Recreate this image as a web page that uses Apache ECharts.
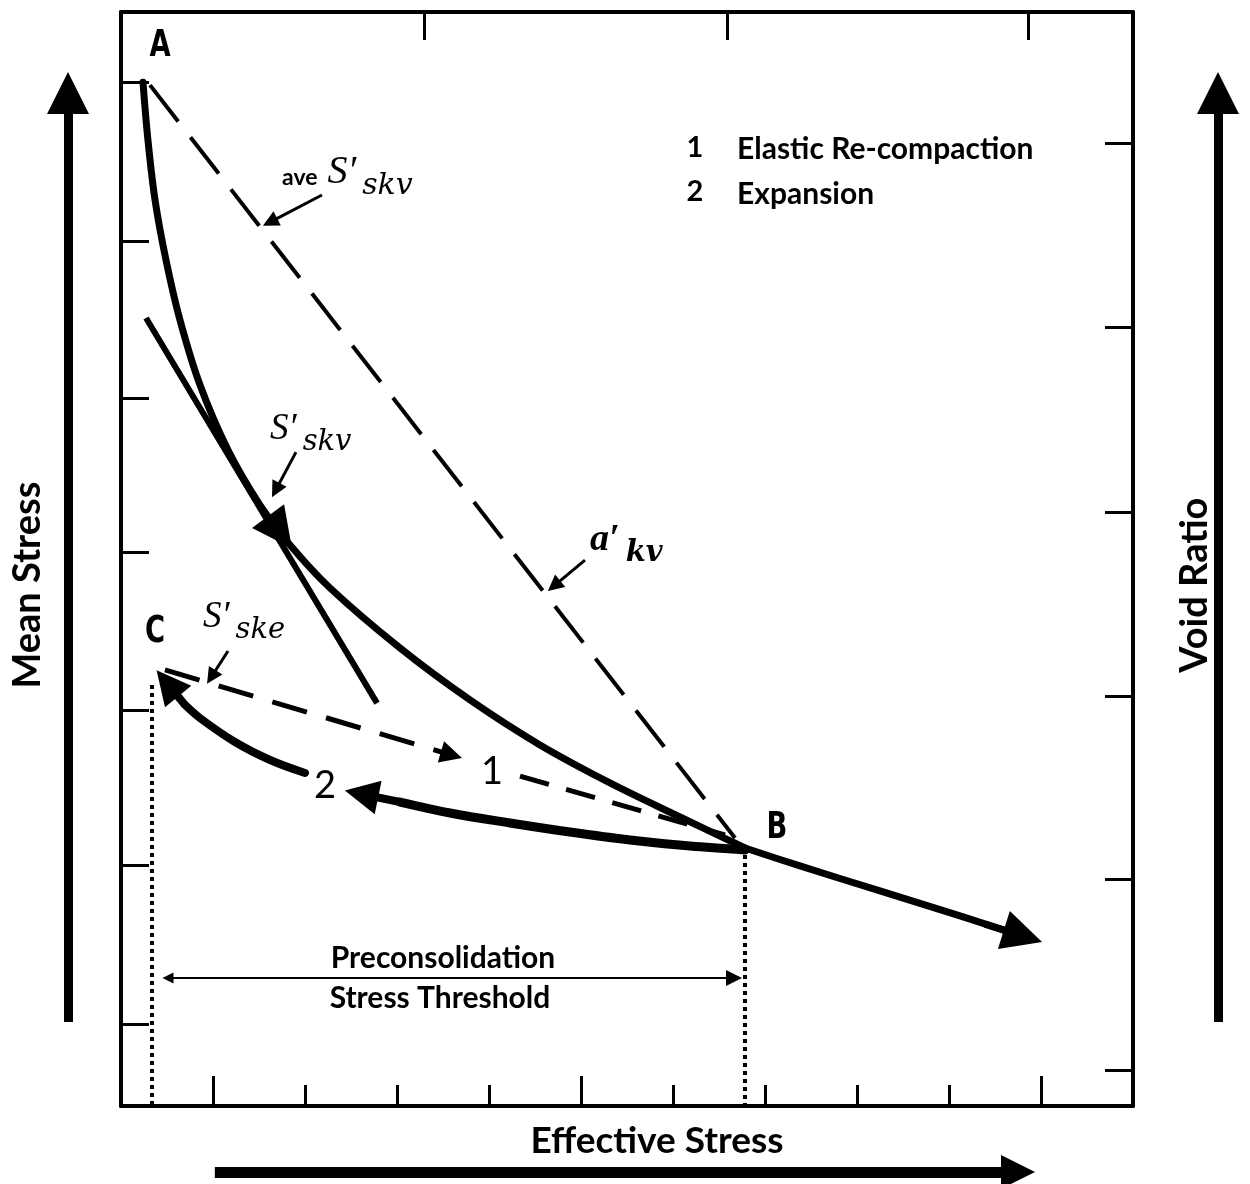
<!DOCTYPE html>
<html><head><meta charset="utf-8">
<script src="https://cdn.jsdelivr.net/npm/echarts@6/dist/echarts.min.js"></script>
<style>html,body{margin:0;padding:0;background:#fff}#c{width:1250px;height:1184px}</style>
</head><body><div id="c"></div>
<script>
// ---- axes (arbitrary units: x = effective stress, y = mean stress / void ratio) ----
const xRange = [0, 11];
const yRange = [0, 7];
const bottomTicks = [2, 3, 4, 6, 7, 8, 9];
const bottomLongTicks = [1, 5, 10];
const topTicks = [3.30, 6.59, 9.86];
const leftTicks = [0.52, 1.54, 2.53, 3.54, 4.53, 5.53, 6.55];
const rightTicks = [0.23, 1.45, 2.62, 3.80, 4.98, 6.16];

// ---- curves ----
const virginCurveAB = [[0.239,6.551],[0.293,6.180],[0.370,5.797],[0.489,5.413],[0.641,5.029],[0.859,4.613],[1.163,4.197],[1.511,3.845],[1.837,3.589],[2.272,3.314],[3.033,2.930],[3.793,2.598],[4.554,2.310],[5.315,2.067],[6.076,1.849],[6.783,1.651]];
const virginCurveTail = [[6.783,1.651],[7.380,1.536],[8.250,1.376],[9.120,1.216],[9.700,1.105]];
const tailArrow = [[9.391,1.164],[9.804,1.088]];
const curveArrow = [[1.533,3.826],[1.728,3.672]];
const tangentSkv = [[0.272,5.042],[2.783,2.578]];
const aveSlopeAB = [[0.315,6.532],[6.674,1.715]];
const recompactionCB1 = [[0.478,2.790],[3.592,2.246]];
const recompactionCB2 = [[4.337,2.111],[6.565,1.734]];
const expansionLower = [[6.783,1.638],[6.185,1.663],[5.533,1.702],[4.880,1.753],[4.228,1.811],[3.576,1.875],[3.033,1.945]];
const expansionLowerArrow = [[3.033,1.945],[2.614,1.996]];
const expansionUpper = [[2.000,2.131],[1.620,2.214],[1.239,2.329],[0.859,2.482],[0.696,2.566]];
const expansionUpperArrow = [[0.696,2.566],[0.504,2.704]];
const dottedC = [[0.337,2.694],[0.337,0]];
const dottedB = [[6.783,1.606],[6.783,0]];
const thresholdArrow = [[0.511,0.819],[6.663,0.819]];
const pointerAve = [[2.185,5.829],[1.620,5.656]];
const pointerSkv = [[1.902,4.184],[1.682,3.941]];
const pointerAkv = [[5.043,3.493],[4.707,3.328]];
const pointerSke = [[1.163,2.911],[0.982,2.745]];
const meanStressArrow = [[-0.576,0.537],[-0.576,6.481]];
const voidRatioArrow = [[11.924,0.537],[11.924,6.481]];
const effStressArrow = [[1.02,-0.422],[9.75,-0.422]];

// ---- text annotations ----
const axisTitles = [
  {t:'Effective Stress', p:[5.826,-0.224], rot:0, size:37},
  {t:'Mean Stress', p:[-1.011,3.333], rot:90, size:38},
  {t:'Void Ratio', p:[11.674,3.333], rot:90, size:38}
];
const pointLabels = [{t:'A', p:[0.424,6.782]}, {t:'B', p:[7.130,1.779]}, {t:'C', p:[0.370,3.033]}];
const pathNumbers = [{t:'1', p:[4.033,2.137]}, {t:'2', p:[2.217,2.047]}];
const legendNums = [{t:'1', p:[6.239,6.129]}, {t:'2', p:[6.239,5.848]}];
const legendTexts = [{t:'Elastic Re-compaction', p:[6.696,6.120]}, {t:'Expansion', p:[6.696,5.835]}];
const thresholdTexts = [{t:'Preconsolidation', p:[3.50,0.947]}, {t:'Stress Threshold', p:[3.467,0.691]}];
const mathLabels = [
  {pre:'ave', main:'S\u2032', sub:'skv', p:[1.750,5.970], ms:40, ss:30, bold:false},
  {pre:'', main:'S\u2032', sub:'skv', p:[1.620,4.328], ms:37, ss:29, bold:false},
  {pre:'', main:'a\u2032', sub:'kv', p:[5.098,3.621], ms:38, ss:29, bold:true},
  {pre:'', main:'S\u2032', sub:'ske', p:[0.891,3.125], ms:37, ss:29, bold:false}
];

const K = '#000';
function seg(data, width, opts) {
  return Object.assign({type:'lines', coordinateSystem:'cartesian2d', clip:false, silent:true, z:5,
    symbol:'none', data:[{coords:data}], lineStyle:{color:K, width:width, opacity:1, cap:'butt'}}, opts || {});
}
function dashed(data, width, dash) {
  return seg(data, width, {lineStyle:{color:K, width:width, opacity:1, type:dash, cap:'butt'}});
}
function arrowSeg(data, width, w, h, opts) {
  return seg(data, width, Object.assign({symbol:['none','triangle'], symbolSize:[w,h]}, opts || {}));
}
function curve(data, width) {
  return {type:'line', data:data, smooth:0.35, showSymbol:false, symbol:'none', clip:false, silent:true, z:4,
    lineStyle:{color:K, width:width, cap:'round', join:'round', opacity:1}};
}
const baseX = {type:'value', min:xRange[0], max:xRange[1], axisLabel:{show:false}, splitLine:{show:false},
  axisLine:{show:true, onZero:false, lineStyle:{color:K, width:4}}};
const baseY = {type:'value', min:yRange[0], max:yRange[1], axisLabel:{show:false}, splitLine:{show:false},
  axisLine:{show:true, onZero:false, lineStyle:{color:K, width:4}}};
const tick = (vals, len) => ({show:true, inside:true, length:len, customValues:vals, lineStyle:{color:K, width:3}});

const option = {
  animation:false,
  backgroundColor:'#fff',
  grid:{left:121, right:117, top:12, bottom:78, containLabel:false},
  xAxis:[
    Object.assign({}, baseX, {position:'bottom', axisTick:tick(bottomTicks,21)}),
    Object.assign({}, baseX, {position:'top', axisTick:tick(topTicks,28)}),
    Object.assign({}, baseX, {position:'bottom', axisLine:{show:false}, axisTick:tick(bottomLongTicks,30)})
  ],
  yAxis:[
    Object.assign({}, baseY, {position:'left', axisTick:tick(leftTicks,28)}),
    Object.assign({}, baseY, {position:'right', axisTick:tick(rightTicks,28)})
  ],
  series:[
    curve(virginCurveAB, 7),
    curve(virginCurveTail, 7),
    arrowSeg(tailArrow, 7, 26, 40),
    arrowSeg(curveArrow, 6, 34, 40),
    seg(tangentSkv, 6),
    dashed(aveSlopeAB, 4, [46,20]),
    arrowSeg(recompactionCB1, 5, 18, 22, {lineStyle:{color:K, width:5, opacity:1, type:[36,20], cap:'butt'}}),
    dashed(recompactionCB2, 5, [30,18]),
    curve(expansionLower, 9),
    arrowSeg(expansionLowerArrow, 8, 30, 34),
    curve(expansionUpper, 8),
    arrowSeg(expansionUpperArrow, 8, 26, 34),
    dashed(dottedC, 4, [4,4]),
    dashed(dottedB, 4, [4,4]),
    seg(thresholdArrow, 2, {symbol:['triangle','triangle'], symbolSize:[11,16]}),
    arrowSeg(pointerAve, 3, 12, 16),
    arrowSeg(pointerSkv, 3, 12, 16),
    arrowSeg(pointerAkv, 3, 12, 16),
    arrowSeg(pointerSke, 3, 12, 16),
    arrowSeg(meanStressArrow, 9, 26, 42),
    arrowSeg(voidRatioArrow, 9, 26, 42),
    arrowSeg(effStressArrow, 11, 34, 34)
  ]
};

const chart = echarts.init(document.getElementById('c'), null, {renderer:'canvas'});
chart.setOption(option);

const ctx = document.createElement('canvas').getContext('2d');
function measure(text, font) { ctx.font = font; return ctx.measureText(text).width; }
function toPx(p) { return chart.convertToPixel({xAxisIndex:0, yAxisIndex:0}, p); }
function txt(text, x, y, font, align) {
  return {type:'text', x:x, y:y, z:100, silent:true, style:{text:text, font:font, fill:K,
    align:align||'center', verticalAlign:'middle', textAlign:align||'center', textVerticalAlign:'middle'}};
}
const mainSerif = '"Liberation Serif","DejaVu Serif",serif';
const subSerif = '"DejaVu Serif","Liberation Serif",serif';
const graphics = [];
axisTitles.forEach(d => { const q = toPx(d.p); const g = txt(d.t, q[0], q[1], 'bold ' + d.size + 'px Lato'); g.rotation = d.rot * Math.PI / 180; graphics.push(g); });
pointLabels.forEach(d => { const q = toPx(d.p); const g = txt(d.t, q[0], q[1], 'bold 38px "Liberation Sans Narrow","DejaVu Sans Condensed",sans-serif'); g.scaleX = 0.8; graphics.push(g); });
pathNumbers.forEach(d => { const q = toPx(d.p); graphics.push(txt(d.t, q[0], q[1], '38px Lato')); });
legendNums.forEach(d => { const q = toPx(d.p); graphics.push(txt(d.t, q[0], q[1], 'bold 29px Lato')); });
legendTexts.forEach(d => { const q = toPx(d.p); graphics.push(txt(d.t, q[0], q[1], 'bold 30px Lato', 'left')); });
thresholdTexts.forEach(d => { const q = toPx(d.p); graphics.push(txt(d.t, q[0], q[1], 'bold 30px Lato')); });
mathLabels.forEach(d => {
  const q = toPx(d.p);
  const kids = [];
  let x = 0;
  if (d.pre) {
    const f = 'bold 23px Lato';
    kids.push(txt(d.pre, 0, 5, f, 'left'));
    x += measure(d.pre, f) + 10;
  }
  const fm = (d.bold ? 'italic bold ' : 'italic ') + d.ms + 'px ' + mainSerif;
  kids.push(txt(d.main, x, 0, fm, 'left'));
  x += measure(d.main, fm) + 6;
  const fs = (d.bold ? 'italic bold ' : 'italic ') + d.ss + 'px ' + subSerif;
  kids.push(txt(d.sub, x, d.ms * 0.34, fs, 'left'));
  graphics.push({type:'group', x:q[0], y:q[1], children:kids});
});
chart.setOption({graphic:graphics});
</script></body></html>
